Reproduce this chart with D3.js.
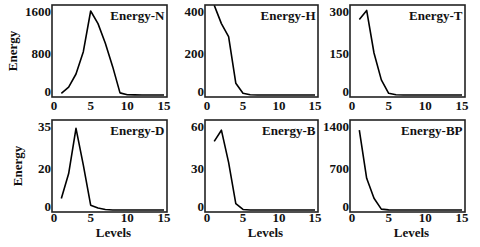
<!DOCTYPE html>
<html><head><meta charset="utf-8">
<script src="https://cdn.jsdelivr.net/npm/d3@7"></script>
<style>
html,body{margin:0;padding:0;background:#fff;}
svg{display:block;}
text{font-family:"Liberation Serif","Times New Roman",serif;font-weight:bold;fill:#111;}
</style></head>
<body>
<svg id="chart" width="480" height="247"></svg>
<script>
// ---- data ----
const levels = d3.range(1, 16);
const panelTitles = ["Energy-N", "Energy-H", "Energy-T", "Energy-D", "Energy-B", "Energy-BP"];
const energyN  = [32, 150, 400, 825, 1600, 1360, 985, 540, 40, 6, 2, 1, 0, 0, 0];
const energyH  = [428, 340, 278, 56, 8, 1, 0, 0, 0, 0, 0, 0, 0, 0, 0];
const energyT  = [270, 302, 150, 54, 6, 1, 0, 0, 0, 0, 0, 0, 0, 0, 0];
const energyD  = [4.8, 15.2, 34, 18.7, 2, 0.8, 0.2, 0, 0, 0, 0, 0, 0, 0, 0];
const energyB  = [49, 57, 34, 4.6, 0.4, 0, 0, 0, 0, 0, 0, 0, 0, 0, 0];
const energyBP = [1330, 528, 195, 14, 2, 0, 0, 0, 0, 0, 0, 0, 0, 0, 0];
const yAxisMax = [1600, 400, 300, 35, 60, 1400];
const yTickLabels = [
  ["0", "800", "1600"],
  ["0", "200", "400"],
  ["0", "150", "300"],
  ["0", "20", "35"],
  ["0", "30", "60"],
  ["0", "700", "1400"]
];
const xTicks = [0, 5, 10, 15];
const xLabel = "Levels";
const yLabel = "Energy";

const series = [energyN, energyH, energyT, energyD, energyB, energyBP];

// ---- layout ----
const svg = d3.select("#chart");
const colLeft = [52, 205, 350], colRight = [167, 318, 465];
const rowTop = [5, 120], rowBottom = [97, 212];

series.forEach((vals, i) => {
  const r = Math.floor(i / 3), c = i % 3;
  const L = colLeft[c], R = colRight[c], T = rowTop[r], B = rowBottom[r];
  const x = d3.scaleLinear().domain([0, 15]).range([L + 2, R - 3]);
  const y = d3.scaleLinear().domain([0, yAxisMax[i]]).range([B - 2, T + 6]);
  const g = svg.append("g");

  const clipId = "clip" + i;
  svg.append("clipPath").attr("id", clipId)
    .append("rect").attr("x", L).attr("y", T).attr("width", R - L).attr("height", B - T);

  const line = d3.line().x((d, k) => x(levels[k])).y(d => y(d));
  g.append("path").datum(vals)
    .attr("clip-path", `url(#${clipId})`)
    .attr("d", line)
    .attr("fill", "none").attr("stroke", "#000").attr("stroke-width", 1.6)
    .attr("stroke-linejoin", "round");

  g.append("rect").attr("x", L).attr("y", T).attr("width", R - L).attr("height", B - T)
    .attr("fill", "none").attr("stroke", "#222").attr("stroke-width", 1.6);

  // y tick labels
  const yt = [0, yAxisMax[i] / 2, yAxisMax[i]];
  yt.forEach((v, k) => {
    g.append("text").attr("x", L - 1).attr("y", Math.min(y(v), B - 6))
      .attr("dy", "0.35em").attr("text-anchor", "end").attr("font-size", 13)
      .text(yTickLabels[i][k]);
  });
  // x tick labels
  xTicks.forEach(v => {
    g.append("text").attr("x", x(v)).attr("y", B + (r === 0 ? 13 : 10))
      .attr("text-anchor", "middle").attr("font-size", 13).text(String(v));
  });
  // title
  g.append("text").attr("x", R - 2.5).attr("y", T + 14.5)
    .attr("text-anchor", "end").attr("font-size", 13).text(panelTitles[i]);

  if (c === 0) {
    g.append("text")
      .attr("transform", `translate(${r === 0 ? 17 : 22},${(T + B) / 2}) rotate(-90)`)
      .attr("text-anchor", "middle").attr("font-size", 13).text(yLabel);
  }
  if (r === 1) {
    g.append("text").attr("x", (L + R) / 2 + 4).attr("y", 237)
      .attr("text-anchor", "middle").attr("font-size", 13).text(xLabel);
  }
});
</script>
</body></html>
